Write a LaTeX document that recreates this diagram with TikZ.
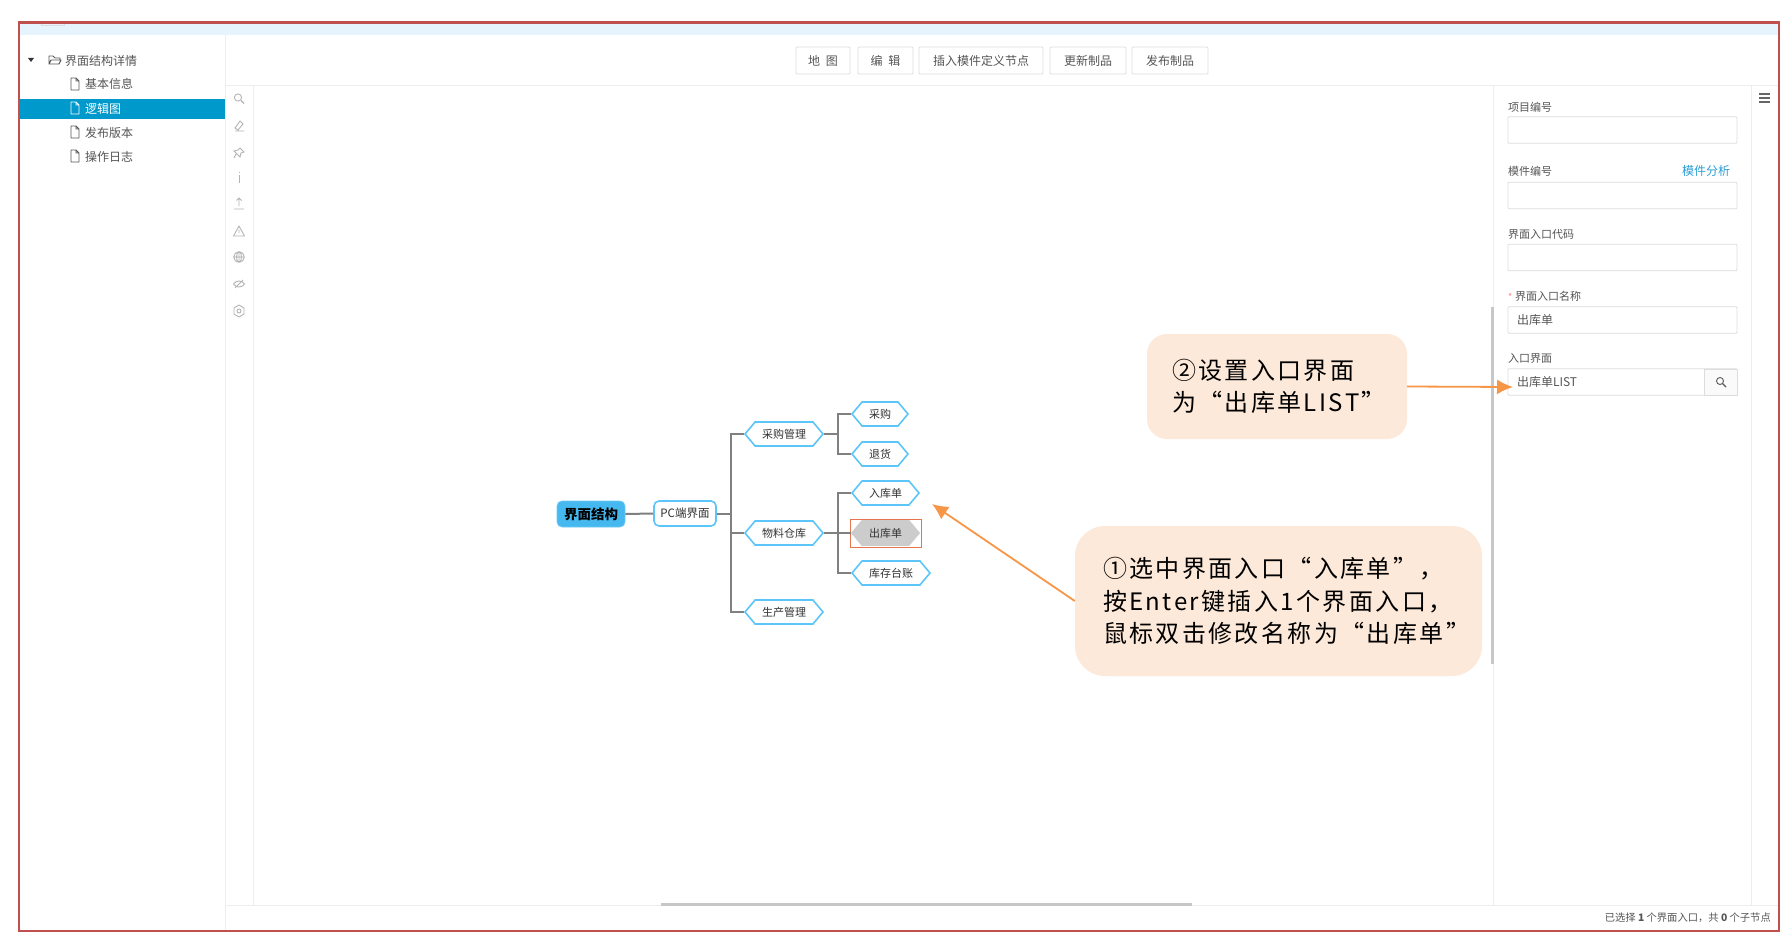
\documentclass[tikz,border=0pt]{standalone}
\usepackage{fontspec}
\setmainfont{Noto Sans CJK SC}
\newfontfamily\callfont[LetterSpace=10]{Noto Sans CJK SC}
\usetikzlibrary{shapes.symbols,arrows.meta}
\definecolor{frameRed}{HTML}{C0504D}
\definecolor{bandBlue}{HTML}{E6F5FD}
\definecolor{selBlue}{HTML}{0099CC}
\definecolor{rule}{HTML}{EDEDED}
\definecolor{uitext}{HTML}{555555}
\definecolor{icon}{HTML}{B4B4B4}
\definecolor{fieldline}{HTML}{DDDDDD}
\definecolor{mapblue}{HTML}{5CC5FA}
\definecolor{rootblue}{HTML}{45B8F0}
\definecolor{wire}{HTML}{808080}
\definecolor{callfill}{HTML}{FDE9D9}
\definecolor{callarrow}{HTML}{F79646}
\definecolor{hilite}{HTML}{E8744F}
\definecolor{linkblue}{HTML}{2A9FD6}
\newcommand{\up}[1]{\raisebox{.9pt}{#1}}
\tikzset{
  x=1pt,y=-1pt,
  ui/.style={font=\fontsize{12}{14}\selectfont,text=uitext,inner sep=0pt},
  lab/.style={font=\fontsize{11}{13}\selectfont,text=uitext,inner sep=0pt,anchor=west},
  toolbtn/.style={draw=fieldline,line width=.9pt,fill=white,rounded corners=1pt,inner sep=0pt,minimum height=27pt,font=\fontsize{12}{14}\selectfont,text=uitext},
  field/.style={draw=fieldline,line width=.9pt,fill=white,rounded corners=1pt,inner sep=0pt,minimum height=26.5pt,minimum width=229pt,font=\fontsize{12}{14}\selectfont,text=uitext,align=left,text width=211pt},
  hexa/.style={shape=signal,signal to=east and west,signal pointer angle=100,draw=mapblue,line width=1.6pt,fill=white,inner ysep=0pt,inner xsep=0pt,minimum height=24pt,font=\fontsize{11}{13}\selectfont,text=black!80},
  wireline/.style={draw=wire,line width=2pt},
  callout/.style={fill=callfill,inner ysep=0pt,font=\callfont\fontsize{24}{32.5}\selectfont,text=black,align=left},
  callarr/.style={draw=callarrow,line width=1.8pt,-{Latex[length=16pt,width=15pt]}},
  iconline/.style={draw=icon,line width=.9pt,fill=none},
  fileicon/.style={draw=#1,line width=.9pt,fill=none,line join=round},
}
\newcommand{\fileic}[3]{\draw[fileicon=#3] (#1-4,#2-6) -- (#1+1,#2-6) -- (#1+4,#2-3) -- (#1+4,#2+6) -- (#1-4,#2+6) -- cycle (#1+1,#2-6) -- (#1+1,#2-3) -- (#1+4,#2-3);}
\begin{document}
\begin{tikzpicture}
\useasboundingbox (0,0) rectangle (1787,944);
\fill[white] (0,0) rectangle (1787,944);
% top band
\fill[bandBlue] (20,23) rectangle (1778,35.5);
\draw[fieldline,line width=.6pt] (41,23) -- (41,25) -- (64,25) -- (64,23);
% panel rules
\draw[rule,line width=.9pt] (225,35) -- (225,930);
\draw[rule,line width=.9pt] (225,85) -- (1778,85);
\draw[rule,line width=.9pt] (253,85) -- (253,905);
\draw[rule,line width=.9pt] (1493,85) -- (1493,905);
\draw[rule,line width=.9pt] (1751,85) -- (1751,905);
\draw[rule,line width=.9pt] (225,905) -- (1778,905);
% tree
\fill[selBlue] (20,99) rectangle (225,119.5);
\fill[black!80] (28,58) -- (34,58) -- (31,62) -- cycle;
\draw[fileicon=uitext] (49,64) -- (49,56) -- (53,56) -- (55,58) -- (60,58) -- (60,60) (49,64) -- (51,60) -- (61,60) -- (59,64) -- cycle;
\node[ui,anchor=west] (t0) at (65,60.5) {界面结构详情};
\fileic{75}{84}{uitext}
\node[ui,anchor=west] (t1) at (85,84) {基本信息};
\fileic{75}{108}{white}
\node[ui,anchor=west,text=white] (t2) at (85,108.5) {逻辑图};
\fileic{75}{132}{uitext}
\node[ui,anchor=west] (t3) at (85,132.5) {发布版本};
\fileic{75}{156}{uitext}
\node[ui,anchor=west] (t4) at (85,156.5) {操作日志};
% tool icons
\draw[iconline] (238,97.5) circle (3.6);
\draw[iconline,line width=1.2pt] (241,100.5) -- (244,103.5);
\draw[iconline] (235,128) -- (240,121) -- (243,124) -- (238,130) -- cycle (235,131) -- (244,131);
\draw[iconline] (240,148) -- (244,152) -- (241,153) -- (240,157) -- (234,151) -- (238,150) -- cycle (236,154) -- (234,158);
\draw[iconline,line width=.9pt] (239,175) -- (239,183) (239,172) -- (239,173.5);
\draw[iconline] (239,198) -- (239,206) (236.5,200.5) -- (239,198) -- (241.5,200.5) (234,209) -- (244,209);
\draw[iconline,line join=round] (239,226) -- (244.5,236) -- (233.5,236) -- cycle (239,229.5) -- (239,233);
\draw[iconline] (239,257) circle (5.3) (233.7,257) -- (244.3,257) (239,251.7) -- (239,262.3) (239,257) ellipse (2.5 and 5.3);
\draw[iconline] (233.5,284) .. controls (236,280) and (242,280) .. (244.5,284) .. controls (242,288) and (236,288) .. (233.5,284) (235,288) -- (243,280);
\draw[iconline] (239,311) circle (2);
\draw[iconline,line join=round] (239,305) -- (244,308) -- (244,314) -- (239,317) -- (234,314) -- (234,308) -- cycle;
% toolbar
\node[toolbtn,minimum width=54pt] (b1) at (823,60.5) {\up{地\hspace{3pt} 图}};
\node[toolbtn,minimum width=55pt] (b2) at (885.5,60.5) {\up{编\hspace{3pt} 辑}};
\node[toolbtn,minimum width=124pt] (b3) at (981,60.5) {\up{插入模件定义节点}};
\node[toolbtn,minimum width=76pt] (b4) at (1088,60.5) {\up{更新制品}};
\node[toolbtn,minimum width=76pt] (b5) at (1170,60.5) {\up{发布制品}};
% right panel
\draw[black!60,line width=1.1pt] (1759,94) -- (1770,94) (1759,98) -- (1770,98) (1759,102) -- (1770,102);
\node[lab] (l1) at (1508,107) {项目编号};
\node[field] (f1) at (1622.5,130) {};
\node[lab] (l2) at (1508,171) {模件编号};
\node[lab,text=linkblue,font=\fontsize{12}{14}\selectfont] (l2b) at (1682,171) {模件分析};
\node[field] (f2) at (1622.5,195.5) {};
\node[lab] (l3) at (1508,234) {界面入口代码};
\node[field] (f3) at (1622.5,257.5) {};
\node[lab,text=red!50,font=\fontsize{9}{11}\selectfont] (l4s) at (1508,297) {*};
\node[lab] (l4) at (1515,296.5) {界面入口名称};
\node[field] (f4) at (1622.5,320) {出库单};
\node[lab] (l5) at (1508,358.5) {入口界面};
\node[field] (f5) at (1622.5,382) {出库单LIST};
\draw[fieldline,line width=.9pt,fill=black!2] (1704,369) rectangle (1737,395);
\draw[black!65,line width=.9pt] (1720,381) circle (3.5);
\draw[black!65,line width=1.2pt] (1722.5,383.5) -- (1726,387);
% scrollbars
\fill[black!22] (1490.5,307) rectangle (1493.5,664);
\fill[black!22] (661,902.5) rectangle (1192,905.5);
\node[inner sep=0pt,anchor=east,font=\fontsize{10.3}{12}\selectfont,text=uitext] (st) at (1771,917.5) {已选择 \textbf{1} 个界面入口，共 \textbf{0} 个子节点};
% mind map
\node[hexa,minimum width=78pt] (g1) at (784,434) {采购管理};
\node[hexa,minimum width=78pt] (g2) at (784,533) {物料仓库};
\node[hexa,minimum width=78pt] (g3) at (784,612) {生产管理};
\node[hexa,minimum width=56pt] (a1) at (880,414) {采购};
\node[hexa,minimum width=56pt] (a2) at (880,454) {退货};
\node[hexa,minimum width=67pt] (c1) at (885.5,493) {入库单};
\node[hexa,minimum width=67pt,fill=black!20,draw=black!20] (c2) at (885.5,533) {出库单};
\node[hexa,minimum width=78pt] (c3) at (891,573) {库存台账};
\node[draw=hilite,line width=.9pt,inner sep=0pt,minimum width=71pt,minimum height=28pt] (sel) at (885.5,533) {};
\node[fill=rootblue,draw=rootblue!75!white,line width=.8pt,rounded corners=5pt,minimum width=68pt,minimum height=26pt,inner sep=0pt,font=\bfseries\fontsize{13.5}{15}\selectfont,text=black] (root) at (591,514) {\up{界面结构}};
\node[draw=mapblue,line width=1.6pt,fill=white,rounded corners=5pt,minimum width=62pt,minimum height=25pt,inner sep=0pt,font=\fontsize{11.5}{13}\selectfont,text=black!80] (pc) at (685,513.5) {PC端界面};
\coordinate (tr1) at (731,513.5);
\coordinate (tr2) at (838,434);
\coordinate (tr3) at (838,533);
\draw[wireline] (root.east) -- (pc.west);
\draw[wireline] (pc.east) -- (tr1);
\draw[wireline] (g1.west) -| (tr1);
\draw[wireline] (g2.west) -| (tr1);
\draw[wireline] (g3.west) -| (tr1);
\draw[wireline] (g1.east) -- (tr2);
\draw[wireline] (a1.west) -| (tr2);
\draw[wireline] (a2.west) -| (tr2);
\draw[wireline] (g2.east) -- (tr3);
\draw[wireline] (c1.west) -| (tr3);
\draw[wireline] (c3.west) -| (tr3);
\draw[wireline] (tr3) -- (c2.west);
% callouts
\node[callout,rounded corners=20pt,minimum width=260pt,minimum height=105pt,text width=210pt,inner xsep=25pt] (cb2) at (1277,386.5) {②设置入口界面\\为“出库单LIST”};
\node[callout,rounded corners=30pt,minimum width=407pt,minimum height=150pt,text width=351pt,inner xsep=28pt] (cb1) at (1278.5,601) {①选中界面入口“入库单”，\\按Enter键插入1个界面入口，\\鼠标双击修改名称为“出库单”};
\coordinate (tipA) at (932,504);
\coordinate (tipB) at (1513,387);
\draw[callarr] (cb1.west) -- (tipA);
\draw[callarr] (cb2.east) -- (tipB);
% frame
\draw[frameRed,line width=2.2pt] (19,22.5) rectangle (1779,931);
\end{tikzpicture}
\end{document}
